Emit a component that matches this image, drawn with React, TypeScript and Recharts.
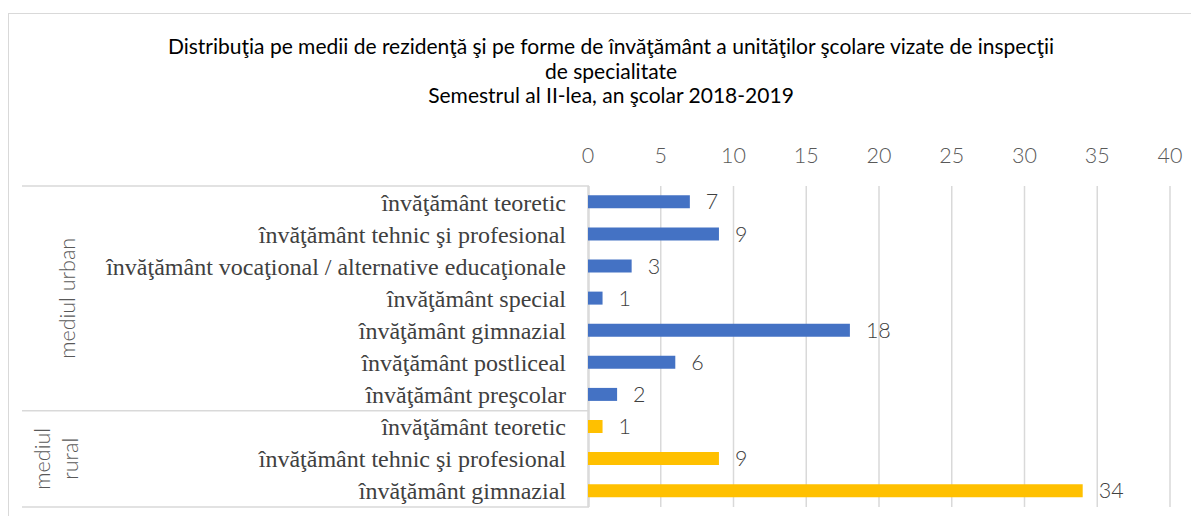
import { Bar, BarChart, CartesianGrid, Cell, LabelList, XAxis, YAxis, usePlotArea } from "recharts";

const categories = [
  "învăţământ teoretic",
  "învăţământ tehnic şi profesional",
  "învăţământ vocaţional / alternative educaţionale",
  "învăţământ special",
  "învăţământ gimnazial",
  "învăţământ postliceal",
  "învăţământ preşcolar",
  "învăţământ teoretic",
  "învăţământ tehnic şi profesional",
  "învăţământ gimnazial",
];
const values = [7, 9, 3, 1, 18, 6, 2, 1, 9, 34];
const groupNames = [["mediul urban"], ["mediul", "rural"]];
const groupSizes = [7, 3];
const groupColors = ["#4472C4", "#FFC000"];
const xTicks = [0, 5, 10, 15, 20, 25, 30, 35, 40];
const titleLines = [
  "Distribuţia pe medii de rezidenţă şi pe forme de învăţământ a unităţilor şcolare vizate de inspecţii",
  "de specialitate",
  "Semestrul al II-lea, an şcolar 2018-2019",
];

const groupOf = (i: number) => {
  let acc = 0;
  for (let g = 0; g < groupSizes.length; g++) {
    acc += groupSizes[g];
    if (i < acc) return g;
  }
  return groupSizes.length - 1;
};

const data = categories.map((name, i) => ({ id: String(i), name, value: values[i], group: groupOf(i) }));

const SANS = "Lato, 'Open Sans', sans-serif";
const SANS_SIZE = 21.5;

function GroupFrame() {
  const area = usePlotArea();
  if (!area) return null;
  const band = area.height / categories.length;
  const left = 13;
  const right = area.x + 1;
  const lines: number[] = [area.y];
  let acc = 0;
  groupSizes.forEach((s) => {
    acc += s;
    lines.push(area.y + acc * band);
  });
  let start = 0;
  const labels = groupSizes.map((s, g) => {
    const cy = area.y + (start + s / 2) * band;
    start += s;
    const words = groupNames[g];
    const lh = 28;
    const cx = g === 0 ? 58 : 47;
    return (
      <text
        key={g}
        transform={`translate(${cx},${cy}) rotate(-90)`}
        textAnchor="middle"
        dominantBaseline="central"
        fill="#595959"
        fontFamily={SANS}
        fontSize={SANS_SIZE}
        fontWeight={300}
      >
        {words.map((w, k) => (
          <tspan key={k} x={0} y={(k - (words.length - 1) / 2) * lh}>
            {w}
          </tspan>
        ))}
      </text>
    );
  });
  return (
    <g>
      {lines.map((y, k) => (
        <line key={k} x1={left} x2={right} y1={y} y2={y} stroke="#d9d9d9" strokeWidth={1.5} />
      ))}
      <line x1={right} x2={right} y1={area.y} y2={area.y + area.height} stroke="#d9d9d9" strokeWidth={1.5} />
      {labels}
    </g>
  );
}

export default function App() {
  return (
    <div
      style={{
        position: "relative",
        top: 5,
        width: 1191,
        height: 508,
        boxSizing: "border-box",
        borderTop: "1px solid #d9d9d9",
        borderLeft: "1px solid #d9d9d9",
        borderBottom: "1px solid #d9d9d9",
        background: "#fff",
      }}
    >
      <div
        style={{
          position: "absolute",
          left: 0,
          top: 20,
          width: 1204,
          textAlign: "center",
          fontFamily: SANS,
          fontSize: 21,
          lineHeight: "24.5px",
          color: "#000",
        }}
      >
        {titleLines.map((t, i) => (
          <div key={i}>{t}</div>
        ))}
      </div>
      <div style={{ position: "absolute", left: 0, top: 0 }}>
        <BarChart
          width={1189}
          height={505}
          data={data}
          layout="vertical"
          margin={{ top: 142, right: 28, left: 0, bottom: 12 }}
          barCategoryGap="29%"
        >
          <CartesianGrid horizontal={false} stroke="#d9d9d9" strokeWidth={1.5} />
          <XAxis
            type="number"
            orientation="top"
            domain={[0, 40]}
            ticks={xTicks}
            height={30}
            axisLine={false}
            tickLine={false}
            tickSize={0}
            tickMargin={23}
            tick={{ fill: "#595959", fontSize: SANS_SIZE, fontFamily: SANS, fontWeight: 300 }}
          />
          <YAxis
            type="category"
            dataKey="id"
            width={579}
            axisLine={false}
            tickLine={false}
            tickSize={0}
            tickMargin={22}
            tickFormatter={(v: string) => categories[Number(v)]}
            tick={{ fill: "#404040", fontSize: 24, fontFamily: "'Liberation Serif', serif" }}
          />
          <Bar dataKey="value" isAnimationActive={false}>
            {data.map((d) => (
              <Cell key={d.id} fill={groupColors[d.group]} />
            ))}
            <LabelList
              dataKey="value"
              position="right"
              offset={16}
              fill="#404040"
              fontSize={SANS_SIZE}
              fontFamily={SANS}
              fontWeight={300}
            />
          </Bar>
          <GroupFrame />
        </BarChart>
      </div>
    </div>
  );
}
